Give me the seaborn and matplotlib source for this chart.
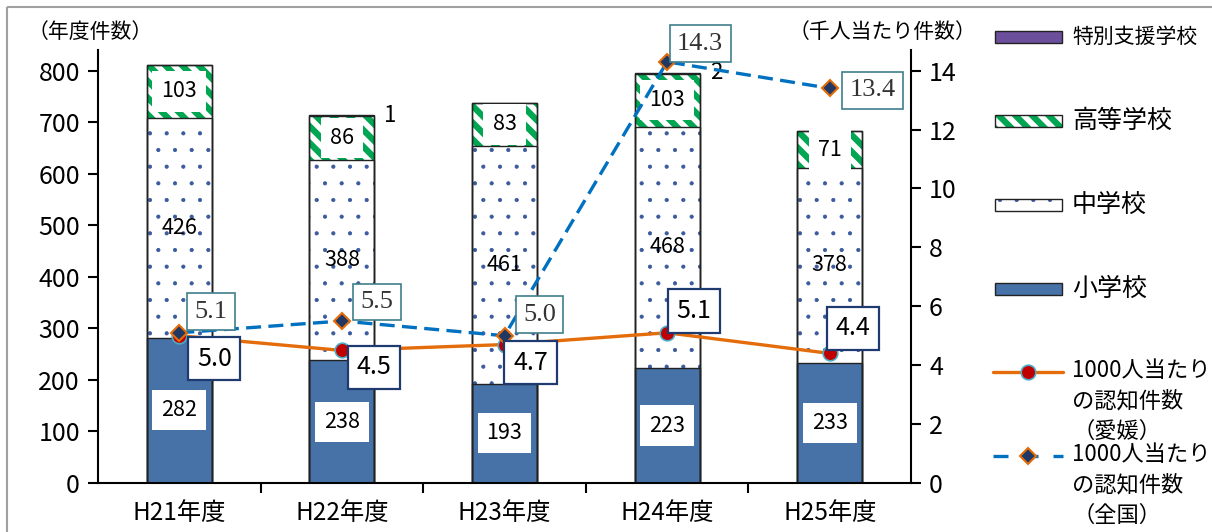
import numpy as np
import pandas as pd
import matplotlib
matplotlib.use("Agg")
import matplotlib.pyplot as plt
from matplotlib.patches import Rectangle
from matplotlib.lines import Line2D
import seaborn as sns

# --- data ---
years = ["H21年度", "H22年度", "H23年度", "H24年度", "H25年度"]
elementary = [282, 238, 193, 223, 233]
junior_high = [426, 388, 461, 468, 378]
high_school = [103, 86, 83, 103, 71]
special = [0, 1, 0, 2, 0]
rate_ehime = [5.0, 4.5, 4.7, 5.1, 4.4]
rate_national = [5.1, 5.5, 5.0, 14.3, 13.4]

# label offsets (pixels, y up)
ehime_offsets = [(35, -23), (32, -17), (26, -18), (27, 22), (23, 25)]
national_offsets = [(32, 21), (35, 19), (35, 21), (33, 18), (43, -2)]

# colours
C_ELEM = "#4672A8"
C_DOTS = "#3A5A9C"
C_GREEN = "#00A651"
C_PURPLE = "#6B4F9C"
C_ORANGE = "#E46C0A"
C_RED = "#C00000"
C_TEAL = "#4BACC6"
C_BLUE = "#0070C0"
C_NAVY = "#1F3864"

sns.set_theme(style="white")
plt.rcParams["font.family"] = ["Noto Sans CJK JP", "DejaVu Sans"]
plt.rcParams["hatch.linewidth"] = 1.0

df = pd.DataFrame({"year": years})
df["elem"] = elementary
df["mid"] = df["elem"] + np.array(junior_high)
df["high"] = df["mid"] + np.array(high_school)
df["spec"] = df["high"] + np.array(special)

W, H = 1212, 532
fig = plt.figure(figsize=(W / 100, H / 100), dpi=100)
ax = fig.add_axes([98 / W, (H - 483) / H, (911 - 98) / W, (483 - 50) / H])

bw = 0.4
DOT_LW = 0.55
STRIPE_LW = 4.5
# stacked bars drawn as overlaid cumulative totals
sns.barplot(data=df, x="year", y="spec", color=C_PURPLE, saturation=1, width=bw,
            linewidth=0, errorbar=None, ax=ax)
with plt.rc_context({"hatch.linewidth": STRIPE_LW}):
    sns.barplot(data=df, x="year", y="high", color="white", saturation=1, width=bw,
                edgecolor=C_GREEN, linewidth=0, hatch="\\\\", errorbar=None, ax=ax)
with plt.rc_context({"hatch.linewidth": DOT_LW}):
    sns.barplot(data=df, x="year", y="mid", color="white", saturation=1, width=bw,
                edgecolor=C_DOTS, linewidth=0, hatch=".", errorbar=None, ax=ax)
sns.barplot(data=df, x="year", y="elem", color=C_ELEM, saturation=1, width=bw,
            linewidth=0, errorbar=None, ax=ax)
# outlines
for col in ["spec", "high", "mid", "elem"]:
    sns.barplot(data=df, x="year", y=col, fill=False, width=bw, edgecolor="#222222",
                linewidth=1.0, errorbar=None, ax=ax)

for p in ax.patches:
    if p.get_hatch() == "\\\\" and hasattr(p, "set_hatch_linewidth"):
        p.set_hatch_linewidth(STRIPE_LW)
    elif p.get_hatch() == "." and hasattr(p, "set_hatch_linewidth"):
        p.set_hatch_linewidth(DOT_LW)

# bar labels
box = dict(boxstyle="square,pad=0.42", fc="white", ec="none")
for i in range(len(years)):
    ax.text(i, elementary[i] / 2, str(elementary[i]), ha="center", va="center",
            fontsize=15.5, bbox=box, color="black")
    ax.text(i, df["elem"][i] + junior_high[i] / 2, str(junior_high[i]), ha="center",
            va="center", fontsize=15.5, color="black")
    ax.text(i, df["mid"][i] + high_school[i] / 2, str(high_school[i]), ha="center",
            va="center", fontsize=15.5, bbox=box, color="black")
    if special[i] > 0:
        ax.annotate(str(special[i]), xy=(i + bw / 2, df["spec"][i]), xytext=(10, 0),
                    textcoords="offset pixels", ha="left", va="center", fontsize=16,
                    color="black")

ax.set_xlim(-0.5, len(years) - 0.5)
ax.set_ylim(0, 840)
ax.set_yticks(range(0, 900, 100))
ax.set_xlabel("")
ax.set_ylabel("")
ax.set_xticks(range(len(years)))
ax.set_xticklabels(years)
ax.set_xticks(np.arange(0.5, len(years) - 0.5, 1), minor=True)
ax.tick_params(axis="x", which="major", length=0, pad=12, labelsize=17.5, colors="black")
ax.tick_params(axis="x", which="minor", length=7, width=1.5, direction="out",
               bottom=True, color="black")
ax.tick_params(axis="y", length=7, width=1.5, direction="out", left=True, pad=6,
               labelsize=18, colors="black")
for s in ["top", "right"]:
    ax.spines[s].set_visible(False)
for s in ["left", "bottom"]:
    ax.spines[s].set_color("black")
    ax.spines[s].set_linewidth(1.5)

# rates on secondary axis (Ehime first, national drawn on top)
ax2 = ax.twinx()
x = np.arange(len(years))
sns.lineplot(x=x, y=rate_ehime, ax=ax2, color=C_ORANGE, lw=2.4, marker="o",
             markersize=10.5, markerfacecolor=C_RED, markeredgecolor=C_TEAL,
             markeredgewidth=1.2)
sns.lineplot(x=x, y=rate_national, ax=ax2, color=C_BLUE, lw=2.4, marker="D",
             markersize=8.5, markerfacecolor=C_NAVY, markeredgecolor=C_ORANGE,
             markeredgewidth=1.5)
ax2.lines[-1].set_dashes([4.5, 2.2])
ax2.set_ylim(0, 840 / 800 * 14)
ax2.set_yticks(range(0, 16, 2))
ax2.set_ylabel("")
ax2.tick_params(axis="y", length=7, width=1.5, direction="out", right=True, pad=6,
                labelsize=18, colors="black")
for s in ["top", "left", "bottom"]:
    ax2.spines[s].set_visible(False)
ax2.spines["right"].set_color("black")
ax2.spines["right"].set_linewidth(1.5)

for i in range(len(years)):
    ax2.annotate(f"{rate_national[i]:.1f}", xy=(i, rate_national[i]),
                 xytext=national_offsets[i], textcoords="offset pixels",
                 ha="center", va="center", fontsize=19, color="#333333",
                 family=["Liberation Serif", "DejaVu Serif"],
                 bbox=dict(boxstyle="square,pad=0.28", fc="white", ec="#3F7F8C", lw=1.2))
    ax2.annotate(f"{rate_ehime[i]:.1f}", xy=(i, rate_ehime[i]),
                 xytext=ehime_offsets[i], textcoords="offset pixels",
                 ha="center", va="center", fontsize=18, color="black",
                 bbox=dict(boxstyle="square,pad=0.35", fc="white", ec="#1F3A6E", lw=1.6))

# overlay in pixel coordinates: frame, axis titles, legend
ov = fig.add_axes([0, 0, 1, 1], facecolor="none")
ov.set_xlim(0, W)
ov.set_ylim(H, 0)
ov.axis("off")
ov.add_patch(Rectangle((7, 7), W + 20, H + 20, fill=False, ec="#A0A0A0", lw=1.5,
                       clip_on=False))
ov.text(28, 32, "（年度件数）", ha="left", va="center", fontsize=15, color="black")
ov.text(976, 32, "（千人当たり件数）", ha="right", va="center", fontsize=15, color="black")

hx, hw, hh, tx = 995, 67, 12, 1072
ov.add_patch(Rectangle((hx, 37 - hh / 2), hw, hh, fc=C_PURPLE, ec="#222222", lw=1))
ov.text(tx, 37, "特別支援学校", ha="left", va="center", fontsize=15, color="black")
with plt.rc_context({"hatch.linewidth": STRIPE_LW}):
    hp = Rectangle((hx, 121 - hh / 2), hw, hh, fc="white", ec=C_GREEN, lw=0, hatch="\\\\")
ov.add_patch(hp)
ov.add_patch(Rectangle((hx, 121 - hh / 2), hw, hh, fill=False, ec="#222222", lw=1))
ov.text(tx, 121, "高等学校", ha="left", va="center", fontsize=18, color="black")
with plt.rc_context({"hatch.linewidth": DOT_LW}):
    mp = Rectangle((hx, 205 - hh / 2), hw, hh, fc="white", ec=C_DOTS, lw=0, hatch=".")
ov.add_patch(mp)
ov.add_patch(Rectangle((hx, 205 - hh / 2), hw, hh, fill=False, ec="#222222", lw=1))
ov.text(tx, 205, "中学校", ha="left", va="center", fontsize=18, color="black")
ov.add_patch(Rectangle((hx, 289 - hh / 2), hw, hh, fc=C_ELEM, ec="#222222", lw=1))
ov.text(tx, 289, "小学校", ha="left", va="center", fontsize=18, color="black")
if hasattr(hp, "set_hatch_linewidth"):
    hp.set_hatch_linewidth(STRIPE_LW)
    mp.set_hatch_linewidth(DOT_LW)

ov.add_line(Line2D([993, 1063], [372, 372], color=C_ORANGE, lw=2.4))
ov.add_line(Line2D([1028], [372], marker="o", markersize=10.5, markerfacecolor=C_RED,
                   markeredgecolor=C_TEAL, markeredgewidth=1.2, lw=0))
ov.text(tx, 359, "1000人当たり\nの認知件数\n（愛媛）", ha="left", va="top",
        fontsize=16, linespacing=1.42, color="black")
ov.add_line(Line2D([993, 1063], [456, 456], color=C_BLUE, lw=2.4, dashes=[4.5, 4.5]))
ov.add_line(Line2D([1028], [456], marker="D", markersize=8.5, markerfacecolor=C_NAVY,
                   markeredgecolor=C_ORANGE, markeredgewidth=1.5, lw=0))
ov.text(tx, 443, "1000人当たり\nの認知件数\n（全国）", ha="left", va="top",
        fontsize=16, linespacing=1.42, color="black")

fig.savefig("out.png", dpi=100)
